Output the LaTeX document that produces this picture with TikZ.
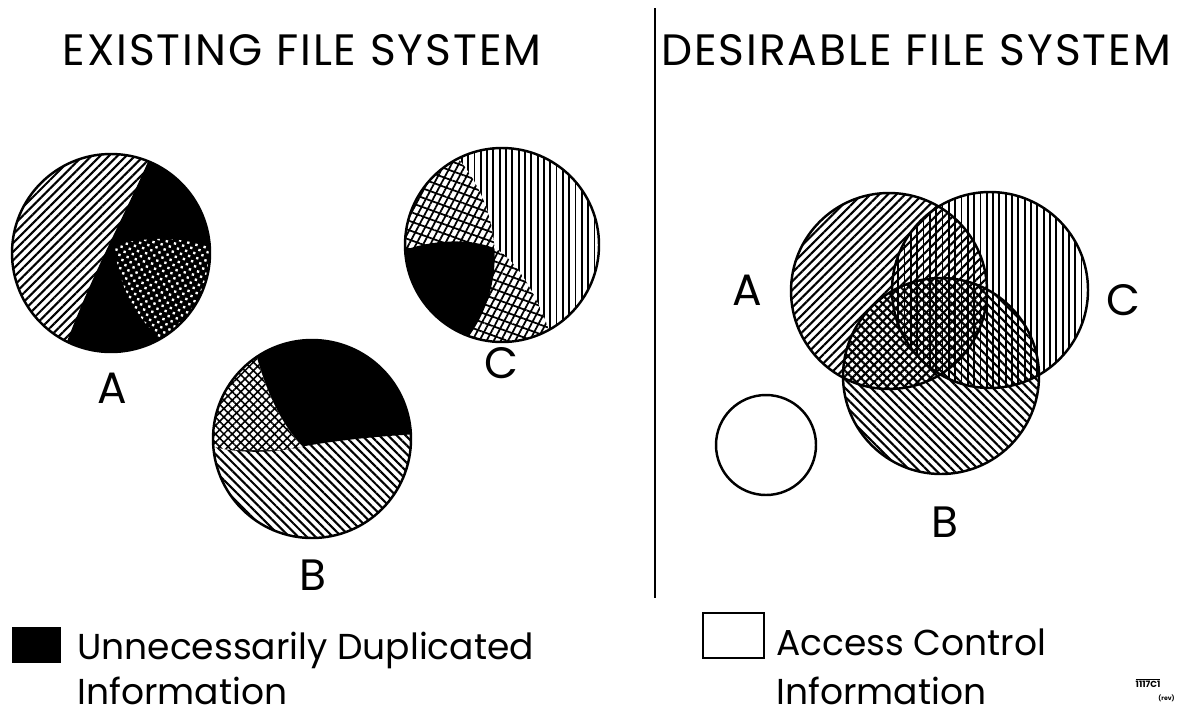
\documentclass[tikz,border=0pt]{standalone}
\usepackage{fontspec}
\setmainfont{Poppins}
\usepackage{tikz}
\usetikzlibrary{patterns,patterns.meta}

\tikzset{
  rim/.style={line width=1.4pt},
  nelines/.style={pattern={Lines[angle=45,distance=3.5pt,line width=1.2pt]}},
  nwlines/.style={pattern={Lines[angle=-45,distance=3.5pt,line width=1.2pt]}},
  vlines/.style={pattern={Lines[angle=90,distance=3.6pt,line width=1pt]}},
  diamonds/.style={pattern={Hatch[angle=45,distance=3.4pt,line width=0.9pt]}},
  slant/.style={pattern={Lines[angle=62,distance=3.6pt,line width=1pt]}},
  slantx/.style={pattern={Lines[angle=-20,distance=5pt,line width=1pt]}},
  holes/.style={pattern={Dots[radius=0.95pt,distance=3.4pt,angle=30]},pattern color=white},
  heading/.style={font=\fontsize{25}{25}\selectfont\addfontfeature{LetterSpace=4.5}},
  letter/.style={font=\fontsize{25}{25}\selectfont},
  keytext/.style={font=\fontsize{20.5}{20.5}\selectfont,anchor=base west,inner sep=0pt}
}

\begin{document}
\begin{tikzpicture}[x=0.02cm,y=-0.02cm]
  \useasboundingbox (0,0) rectangle (1185,717);

  \node[heading] (titleold) at (302,50) {EXISTING FILE SYSTEM};
  \node[heading] (titlenew) at (916,50) {DESIRABLE FILE SYSTEM};
  \draw[line width=1.1pt] (655,8) -- (655,598);

  % existing: A
  \begin{scope}
    \clip (111,253) circle[radius=99];
    \fill[nelines] (111,253) circle[radius=99];
    \fill (153,150) .. controls (128,210) and (92,272) .. (62,355) -- (215,355) -- (215,150) -- cycle;
    \fill[holes] (115,246) .. controls (140,236) and (190,236) .. (215,250) -- (215,355) -- (170,355)
      -- (165,343) .. controls (140,322) and (118,290) .. (115,246) -- cycle;
  \end{scope}
  \draw[rim] (111,253) circle[radius=99];

  % existing: C
  \begin{scope}
    \clip (502,245) circle[radius=97];
    \fill[vlines] (502,245) circle[radius=97];
    \fill[white] (445,145) .. controls (495,190) and (520,280) .. (458,350) -- (400,350) -- (400,145) -- cycle;
    \fill[white] (395,254) .. controls (430,238) and (475,238) .. (498,250)
      .. controls (520,265) and (540,300) .. (556,350) -- (395,350) -- cycle;
    \fill[slant] (445,145) .. controls (495,190) and (520,280) .. (458,350) -- (400,350) -- (400,145) -- cycle;
    \fill[slantx] (445,145) .. controls (495,190) and (520,280) .. (458,350) -- (400,350) -- (400,145) -- cycle;
    \fill[slant] (395,254) .. controls (430,238) and (475,238) .. (498,250)
      .. controls (520,265) and (540,300) .. (556,350) -- (395,350) -- cycle;
    \fill[slantx] (395,254) .. controls (430,238) and (475,238) .. (498,250)
      .. controls (520,265) and (540,300) .. (556,350) -- (395,350) -- cycle;
    \clip (445,145) .. controls (495,190) and (520,280) .. (458,350) -- (400,350) -- (400,145) -- cycle;
    \fill (395,254) .. controls (430,238) and (475,238) .. (498,250)
      .. controls (520,265) and (540,300) .. (556,350) -- (395,350) -- cycle;
  \end{scope}
  \draw[rim] (502,245) circle[radius=97];

  % existing: B
  \begin{scope}
    \clip (312,439) circle[radius=99];
    \fill[nwlines] (312,439) circle[radius=99];
    \clip (205,444) .. controls (240,456) and (280,452) .. (305,446)
      .. controls (340,440) and (380,436) .. (420,434) -- (420,330) -- (205,330) -- cycle;
    \fill (205,330) rectangle (420,460);
    \fill[white] (250,330) .. controls (262,385) and (280,425) .. (306,450) -- (205,450) -- (205,330) -- cycle;
    \fill[diamonds] (250,330) .. controls (262,385) and (280,425) .. (306,450) -- (205,450) -- (205,330) -- cycle;
  \end{scope}
  \draw[rim] (312,439) circle[radius=99];

  \node[letter] (oldA) at (112,388) {A};
  \node[letter] (oldC) at (501,363) {C};
  \node[letter] (oldB) at (313,575) {B};

  % desirable
  \fill[nelines] (889,291) circle[radius=98];
  \fill[vlines] (990,290) circle[radius=98];
  \fill[nwlines] (941,376) circle[radius=98];
  \foreach \cx/\cy in {889/291,990/290,941/376}
    \draw[rim] (\cx,\cy) circle[radius=98];
  \draw[rim] (766,445) circle[radius=50];

  \node[letter] (newA) at (747,290) {A};
  \node[letter] (newC) at (1123,300) {C};
  \node[letter] (newB) at (945,522) {B};

  % legend
  \fill (12,627) rectangle (61,663);
  \node[keytext] (dupone) at (77,659) {Unnecessarily Duplicated};
  \node[keytext] (duptwo) at (77,704) {Information};
  \draw[line width=1.2pt] (703,613) rectangle (764,658);
  \node[keytext] (accone) at (776,655) {Access Control};
  \node[keytext] (acctwo) at (776,704) {Information};

  \node[font=\fontsize{5}{5}\selectfont\bfseries] (code) at (1148,683) {$\overline{\mbox{1117C1}}$};
  \node[font=\fontsize{3.5}{4}\selectfont\bfseries,below=-3pt] (rev) at (code.south east) {(rev)};
\end{tikzpicture}
\end{document}
